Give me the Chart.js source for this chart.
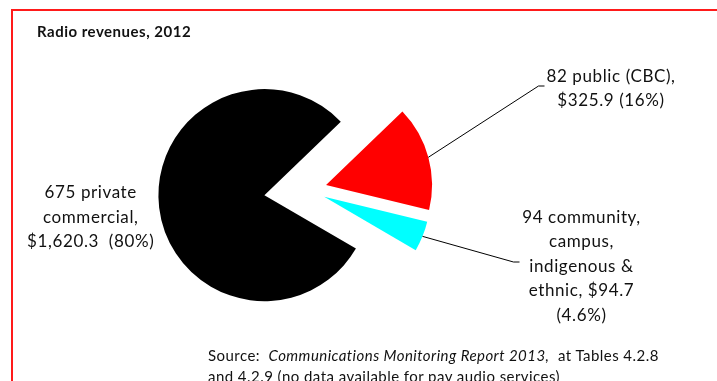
<!DOCTYPE html>
<html>
<head>
<meta charset="utf-8">
<script src="https://cdn.jsdelivr.net/npm/chart.js@4.4.1/dist/chart.umd.min.js"></script>
<style>
  html, body { margin: 0; padding: 0; background: #fff; }
  #wrap { position: relative; width: 717px; height: 381px; overflow: hidden; font-family: Lato, "Open Sans", sans-serif; color: #111; }
  #frame { position: absolute; left: 11px; top: 9px; width: 760px; height: 420px; border: 2px solid #ff1a1a; box-sizing: border-box; }
  #title { position: absolute; left: 37px; top: 22px; font-weight: bold; font-size: 15px; letter-spacing: 0.5px; line-height: 1.2; white-space: nowrap; }
  #source { position: absolute; left: 208px; top: 345px; font-size: 15px; letter-spacing: 0.45px; line-height: 21px; white-space: nowrap; }
  canvas { position: absolute; left: 0; top: 0; }
</style>
</head>
<body>
<div id="wrap">
  <div id="frame"></div>
  <canvas id="chart" width="717" height="381"></canvas>
  <div id="title">Radio revenues, 2012</div>
  <div id="source">Source:&nbsp; <i>Communications Monitoring Report 2013,</i>&nbsp; at Tables 4.2.8<br>and 4.2.9 (no data available for pay audio services)</div>
</div>
<script>
// data ($ millions)
const categories = ['675 private commercial', '82 public (CBC)', '94 community, campus, indigenous & ethnic'];
const revenues = [1620.3, 325.9, 94.7];
const shares = ['80%', '16%', '4.6%'];
const sliceColors = ['#000000', '#ff0000', '#00ffff'];

const money = v => '$' + v.toLocaleString('en-US', { minimumFractionDigits: 1, maximumFractionDigits: 1 });

const labelLines = [
  ['675 private', 'commercial,', money(revenues[0]) + '  (' + shares[0] + ')'],
  ['82 public (CBC),', money(revenues[1]) + ' (' + shares[1] + ')'],
  ['94 community,', 'campus,', 'indigenous &', 'ethnic, ' + money(revenues[2]), '(' + shares[2] + ')']
];

// pulls every slice out along its middle angle (Excel style explode, no radius change)
const explode = {
  id: 'explode',
  afterDatasetUpdate(chart, args, opts) {
    args.meta.data.forEach((arc, i) => {
      const mid = (arc.startAngle + arc.endAngle) / 2;
      const d = opts.distances[i] || 0;
      arc.x += Math.cos(mid) * d;
      arc.y += Math.sin(mid) * d;
    });
  }
};

// data labels and leader lines
const callouts = {
  id: 'callouts',
  afterDatasetsDraw(chart, args, opts) {
    const ctx = chart.ctx;
    const meta = chart.getDatasetMeta(0);
    ctx.save();
    meta.data.forEach((arc, i) => {
      const item = opts.items[i];
      const mid = (arc.startAngle + arc.endAngle) / 2;

      if (item.leader) {
        const [lx, ly, tx] = item.leader;
        ctx.strokeStyle = '#000';
        ctx.lineWidth = 1;
        ctx.beginPath();
        ctx.moveTo(arc.x + Math.cos(mid) * arc.outerRadius, arc.y + Math.sin(mid) * arc.outerRadius);
        ctx.lineTo(lx, ly);
        ctx.lineTo(tx, ly);
        ctx.stroke();
      }

      ctx.fillStyle = '#111';
      ctx.font = opts.font;
      ctx.letterSpacing = opts.letterSpacing;
      ctx.textAlign = 'center';
      ctx.textBaseline = 'alphabetic';
      labelLines[i].forEach((line, k) => {
        ctx.fillText(line, item.x, item.y + k * item.lineHeight);
      });
    });
    ctx.restore();
  }
};

function draw() {
  new Chart(document.getElementById('chart'), {
    type: 'pie',
    data: {
      labels: categories,
      datasets: [{
        data: revenues,
        backgroundColor: sliceColors,
        borderWidth: 0
      }]
    },
    options: {
      responsive: false,
      animation: false,
      events: [],
      rotation: 120.3,
      radius: 106,
      layout: { padding: { left: 0, right: 102, top: 0, bottom: 1 } },
      plugins: {
        legend: { display: false },
        tooltip: { enabled: false },
        explode: { distances: [43.4, 19.2, 18] },
        callouts: {
          font: '17px Lato',
          letterSpacing: '0.6px',
          items: [
            { x: 90.7, y: 198.3, lineHeight: 24.5 },
            { x: 611, y: 81.7, lineHeight: 24.6, leader: [538.5, 86, 544.5] },
            { x: 581.5, y: 222.7, lineHeight: 24.5, leader: [513.5, 262, 519.5] }
          ]
        }
      }
    },
    plugins: [explode, callouts]
  });
}

document.fonts.load('17px Lato').then(draw, draw);
</script>
</body>
</html>
